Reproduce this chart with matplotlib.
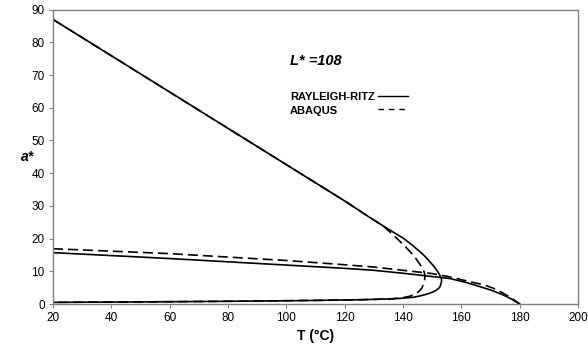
import numpy as np
import matplotlib
matplotlib.use("Agg")
import matplotlib.pyplot as plt

plt.rcParams['font.family'] = ['Liberation Sans', 'DejaVu Sans']

# Rayleigh-Ritz: fold branch (upper -> nose -> lower)
rr_fold_T = [20, 60, 100, 120, 128.7, 134.4, 140.1, 143.0, 145.8, 147.6, 149.2, 150.5,
             151.5, 152.3, 152.9, 153.2, 153.2, 152.7, 152.0, 151.0, 149.8, 148.1,
             146.0, 143.5, 139.5, 135.5, 125, 110, 90, 60, 20]
rr_fold_a = [87, 64.8, 42.6, 31.5, 26.4, 23.2, 20.1, 18.1, 16.0, 14.5, 12.9, 11.6,
             10.4, 9.3, 8.3, 7.5, 6.8, 5.3, 4.6, 4.0, 3.5, 3.0,
             2.5, 2.05, 1.75, 1.55, 1.3, 1.1, 0.9, 0.7, 0.5]
# Rayleigh-Ritz: middle branch
rr_mid_T = [20, 60, 100, 120, 130, 140, 150, 156, 162, 166, 170, 174, 177, 180]
rr_mid_a = [15.7, 13.9, 11.9, 10.9, 10.3, 9.4, 8.4, 7.8, 6.5, 5.4, 4.3, 2.9, 1.6, 0.0]

# ABAQUS: fold branch
ab_fold_T = [20, 60, 100, 120, 128.7, 133.2, 137.8, 140.3, 142.4, 144.0, 145.2, 146.2,
             147.0, 147.4, 147.5, 147.3, 146.9, 146.4, 145.6, 144.7, 143.6, 142.4,
             139.5, 135.5, 125, 110, 90, 60, 20]
ab_fold_a = [87, 64.8, 42.6, 31.5, 26.4, 23.9, 20.1, 18.0, 16.0, 14.4, 12.9, 11.6,
             10.4, 9.3, 8.3, 6.8, 5.8, 4.8, 4.0, 3.3, 2.8, 2.4,
             1.85, 1.55, 1.3, 1.1, 0.9, 0.7, 0.5]
# ABAQUS: middle branch
ab_mid_T = [20, 60, 100, 120, 130, 140, 150, 156, 164, 168, 171, 174.4, 177, 180]
ab_mid_a = [16.9, 15.4, 13.3, 12.0, 11.3, 10.3, 9.3, 8.3, 6.6, 5.8, 4.8, 3.3, 1.9, 0.0]

x_ticks = [20, 40, 60, 80, 100, 120, 140, 160, 180, 200]
y_ticks = [0, 10, 20, 30, 40, 50, 60, 70, 80, 90]

fig = plt.figure(figsize=(5.88, 3.53), dpi=100)
ax = fig.add_axes([0.0901, 0.1388, 0.893, 0.834])

dash = (0, (6, 3))
ax.plot(rr_fold_T, rr_fold_a, color='black', lw=1.2)
ax.plot(rr_mid_T, rr_mid_a, color='black', lw=1.2)
ax.plot(ab_fold_T, ab_fold_a, color='black', lw=1.2, linestyle=dash)
ax.plot(ab_mid_T, ab_mid_a, color='black', lw=1.2, linestyle=dash)

ax.set_xlim(20, 200)
ax.set_ylim(0, 90)
ax.set_xticks(x_ticks)
ax.set_yticks(y_ticks)
ax.tick_params(labelsize=8.5, length=3, width=0.8, color='#808080', pad=3)
for s in ax.spines.values():
    s.set_color('#808080')
    s.set_linewidth(1.0)

ax.set_xlabel('T (°C)', fontsize=10, fontweight='bold', labelpad=3)
ax.set_ylabel('a*', fontsize=10, fontweight='bold', style='italic', rotation=0,
              labelpad=3, va='center')

ax.text(0.451, 0.825, 'L* =108', transform=ax.transAxes, fontsize=10.5,
        fontweight='bold', style='italic', va='center')

# legend drawn by hand: labels on the left, line samples on the right
ax.text(0.451, 0.703, 'RAYLEIGH-RITZ', transform=ax.transAxes, fontsize=8,
        fontweight='bold', va='center')
ax.text(0.451, 0.655, 'ABAQUS', transform=ax.transAxes, fontsize=8,
        fontweight='bold', va='center')
ax.plot([0.619, 0.676], [0.708, 0.708], transform=ax.transAxes, color='black', lw=1.0)
ax.plot([0.619, 0.676], [0.662, 0.662], transform=ax.transAxes, color='black', lw=1.0,
        linestyle=(0, (4, 3.5)))

fig.savefig('out.png', dpi=100)
